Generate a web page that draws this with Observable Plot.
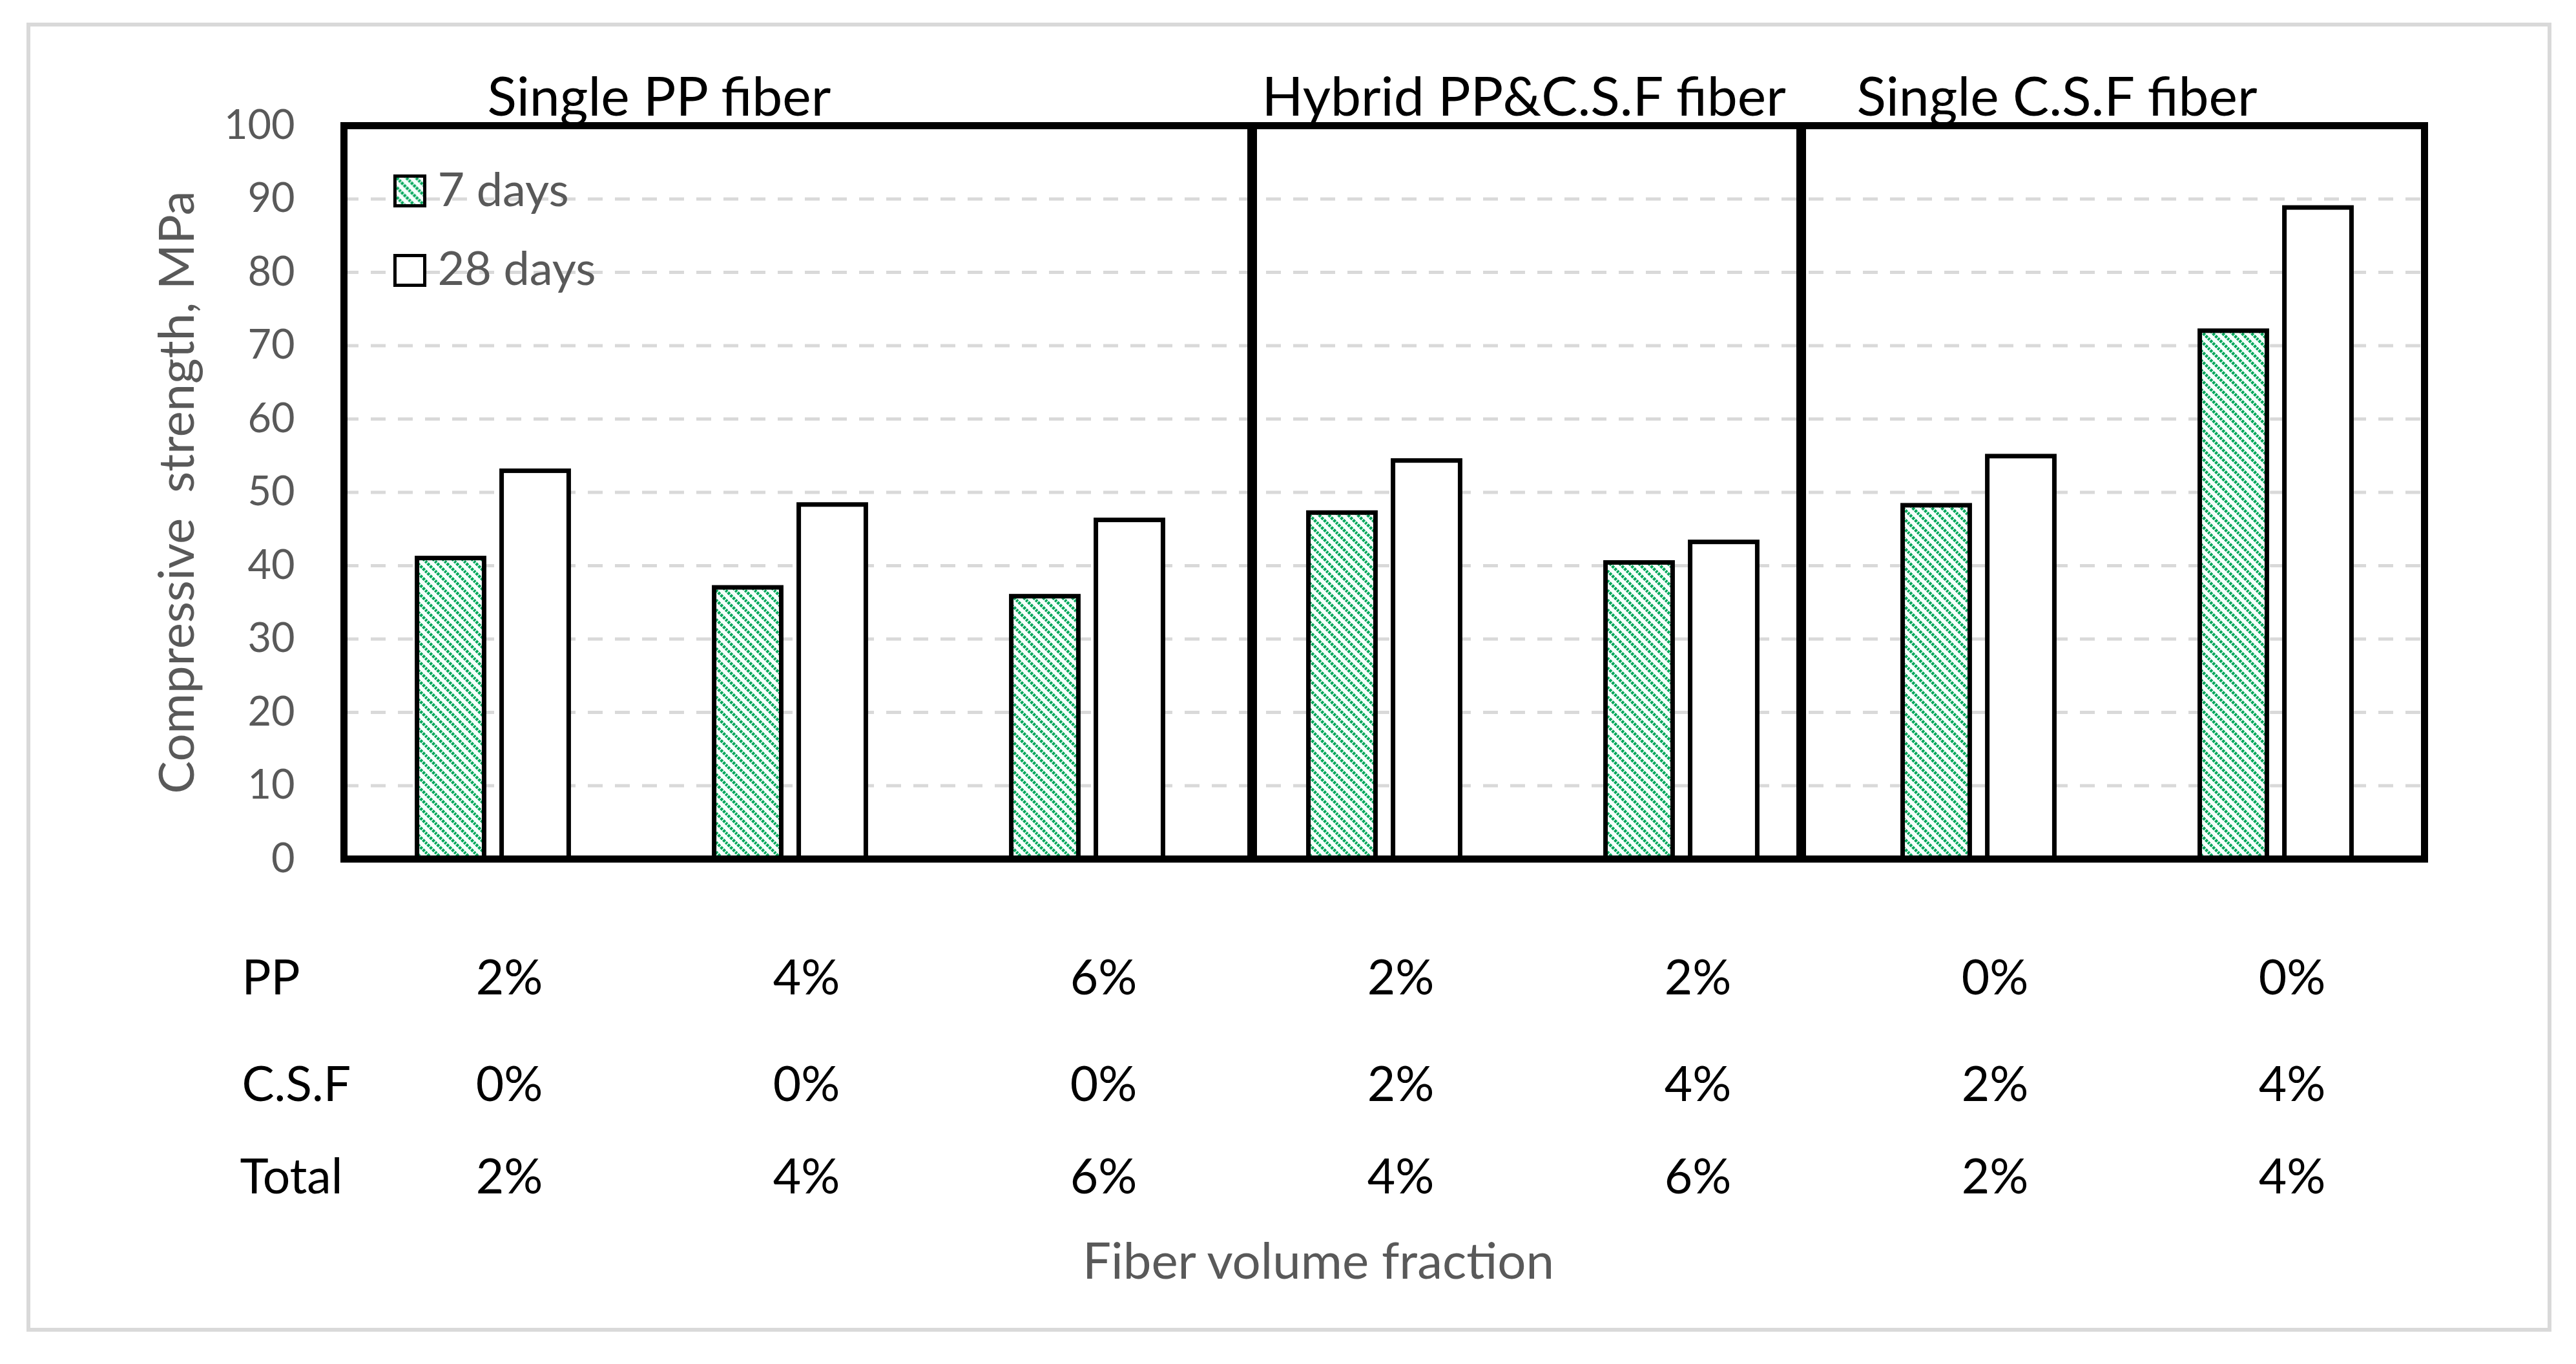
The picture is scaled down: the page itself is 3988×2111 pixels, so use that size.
<!DOCTYPE html>
<html>
<head>
<meta charset="utf-8">
<script src="https://cdn.jsdelivr.net/npm/d3@7"></script>
<script src="https://cdn.jsdelivr.net/npm/@observablehq/plot@0.6"></script>
<style>
  html, body { margin: 0; padding: 0; background: #ffffff; }
  #chart svg { display: block; }
</style>
</head>
<body>
<div id="chart"></div>
<script>
// ---- data ----
const groups = ["PP2", "PP4", "PP6", "HY4", "HY6", "CSF2", "CSF4"];
const days7 = [41.0, 37.0, 35.8, 47.2, 40.4, 48.2, 72.0];
const days28 = [52.9, 48.3, 46.2, 54.3, 43.2, 54.9, 88.8];
const ppRow = ["2%", "4%", "6%", "2%", "2%", "0%", "0%"];
const csfRow = ["0%", "0%", "0%", "2%", "4%", "2%", "4%"];
const totalRow = ["2%", "4%", "6%", "4%", "6%", "2%", "4%"];
const rowLabels = ["PP", "C.S.F", "Total"];
const seriesNames = ["7 days", "28 days"];
const sectionTitles = ["Single PP fiber", "Hybrid PP&C.S.F fiber", "Single C.S.F fiber"];
const yTicks = [0, 10, 20, 30, 40, 50, 60, 70, 80, 90, 100];
const yLabel = "Compressive  strength, MPa";
const xLabel = "Fiber volume fraction";

// ---- layout ----
const W = 3988, H = 2111;
const ML = 532, MR = 235, MT = 194, MB = 782;
const step = (W - ML - MR) / groups.length;
const barW = 104, gap = 27;
const half = step / 2;
const GRAY = "#595959";
const FONT = "Lato, 'Open Sans', sans-serif";

const table = groups.map((g, i) => ({group: g, d7: days7[i], d28: days28[i], pp: ppRow[i], csf: csfRow[i], total: totalRow[i]}));
const rowY = [209, 374, 517]; // offsets below frame bottom

const plot = Plot.plot({
  width: W,
  height: H,
  marginLeft: ML,
  marginRight: MR,
  marginTop: MT,
  marginBottom: MB,
  style: {fontFamily: FONT, background: "#ffffff", overflow: "visible"},
  x: {type: "band", domain: groups, padding: 0, axis: null},
  y: {domain: [0, 100], axis: null},
  marks: [
    Plot.ruleY(yTicks.filter(t => t > 0 && t < 100), {stroke: "#d9d9d9", strokeWidth: 5, strokeDasharray: "23 19"}),
    Plot.barY(table, {x: "group", y: "d7", fill: "url(#hatch7)", stroke: "#000", strokeWidth: 7,
      insetLeft: half - gap / 2 - barW, insetRight: half + gap / 2}),
    Plot.barY(table, {x: "group", y: "d28", fill: "#ffffff", stroke: "#000", strokeWidth: 7,
      insetLeft: half + gap / 2, insetRight: half - gap / 2 - barW}),
    Plot.frame({stroke: "#000", strokeWidth: 11}),
    Plot.ruleY([0], {stroke: "#000", strokeWidth: 11}),
    Plot.ruleX([groups[3]], {stroke: "#000", strokeWidth: 15, dx: -205}),
    Plot.ruleX([groups[4]], {stroke: "#000", strokeWidth: 15, dx: 185}),
    Plot.axisY({ticks: yTicks, tickSize: 0, tickPadding: 76, fontSize: 63, fill: GRAY, label: null}),
    Plot.text([yLabel], {frameAnchor: "left", textAnchor: "middle", dx: -257, rotate: -90, fontSize: 76, fill: GRAY}),
    // section titles
    Plot.text([sectionTitles[0]], {x: () => groups[0], frameAnchor: "top", lineAnchor: "bottom", textAnchor: "start", dx: -9, dy: -16, fontSize: 84, fill: "#000"}),
    Plot.text([sectionTitles[1]], {x: () => groups[3], frameAnchor: "top", lineAnchor: "bottom", textAnchor: "start", dx: -190, dy: -16, fontSize: 84, fill: "#000"}),
    Plot.text([sectionTitles[2]], {x: () => groups[5], frameAnchor: "top", lineAnchor: "bottom", textAnchor: "start", dx: -189, dy: -16, fontSize: 84, fill: "#000"}),
    // legend
    Plot.dot([seriesNames[0]], {frameAnchor: "top-left", dx: 102, dy: 101, symbol: "square", r: 26, fill: "url(#hatch7)", stroke: "#000", strokeWidth: 5}),
    Plot.dot([seriesNames[1]], {frameAnchor: "top-left", dx: 102, dy: 224, symbol: "square", r: 26, fill: "#ffffff", stroke: "#000", strokeWidth: 5}),
    Plot.text([seriesNames[0]], {text: d => d, frameAnchor: "top-left", textAnchor: "start", lineAnchor: "bottom", dx: 145, dy: 124, fontSize: 72, fill: GRAY}),
    Plot.text([seriesNames[1]], {text: d => d, frameAnchor: "top-left", textAnchor: "start", lineAnchor: "bottom", dx: 145, dy: 246, fontSize: 72, fill: GRAY}),
    // table under the chart
    Plot.text(table, {x: "group", text: "pp", frameAnchor: "bottom", dx: 25, dy: rowY[0], fontSize: 75, fill: "#000"}),
    Plot.text(table, {x: "group", text: "csf", frameAnchor: "bottom", dx: 25, dy: rowY[1], fontSize: 75, fill: "#000"}),
    Plot.text(table, {x: "group", text: "total", frameAnchor: "bottom", dx: 25, dy: rowY[2], fontSize: 75, fill: "#000"}),
    Plot.text([rowLabels[0]], {frameAnchor: "bottom-left", textAnchor: "start", dx: -158, dy: rowY[0], fontSize: 75, fill: "#000"}),
    Plot.text([rowLabels[1]], {frameAnchor: "bottom-left", textAnchor: "start", dx: -158, dy: rowY[1], fontSize: 75, fill: "#000"}),
    Plot.text([rowLabels[2]], {frameAnchor: "bottom-left", textAnchor: "start", dx: -161, dy: rowY[2], fontSize: 75, fill: "#000"}),
    Plot.text([xLabel], {frameAnchor: "bottom", dx: -102, dy: 649, fontSize: 78, fill: GRAY})
  ]
});

// pattern definition and outer chart-area border
const svg = d3.select(plot);
const defs = svg.insert("defs", ":first-child");
const pat = defs.append("pattern")
  .attr("id", "hatch7")
  .attr("patternUnits", "userSpaceOnUse")
  .attr("width", 15).attr("height", 15);
pat.append("rect").attr("width", 15).attr("height", 15).attr("fill", "#f6fffb");
pat.append("path")
  .attr("d", "M-2,-2 L17,17 M-2,13 L2,17 M13,-2 L17,2")
  .attr("stroke", "#00a65a")
  .attr("stroke-width", 4.5)
  .attr("stroke-dasharray", "4 1.5");
svg.insert("rect", "defs + *")
  .attr("x", 44).attr("y", 38)
  .attr("width", 3947 - 44).attr("height", 2058 - 38)
  .attr("fill", "none").attr("stroke", "#d9d9d9").attr("stroke-width", 6);

document.getElementById("chart").appendChild(plot);
</script>
</body>
</html>
